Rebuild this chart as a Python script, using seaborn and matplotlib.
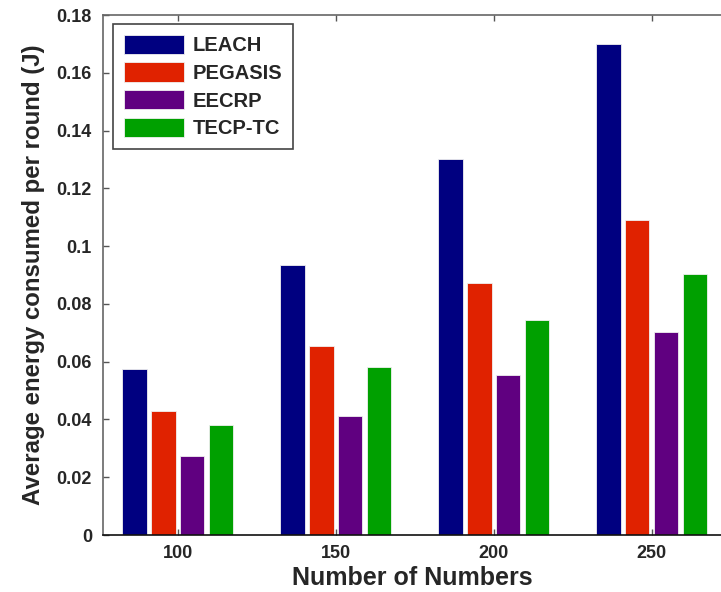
import pandas as pd
import seaborn as sns
import matplotlib.pyplot as plt

# data
nodes = ["100", "150", "200", "250"]
protocols = ["LEACH", "PEGASIS", "EECRP", "TECP-TC"]
leach = [0.0574, 0.0933, 0.1300, 0.1700]
pegasis = [0.0430, 0.0653, 0.0872, 0.1092]
eecrp = [0.0272, 0.0411, 0.0553, 0.0702]
tecp_tc = [0.0381, 0.0581, 0.0744, 0.0902]
colors = ["#000080", "#E02200", "#600080", "#00A000"]

rows = []
for name, vals in zip(protocols, [leach, pegasis, eecrp, tecp_tc]):
    for n, v in zip(nodes, vals):
        rows.append({"nodes": n, "energy": v, "protocol": name})
df = pd.DataFrame(rows)

sns.set_style("white")
plt.rcParams['font.family'] = ['Liberation Sans', 'DejaVu Sans']

fig = plt.figure(figsize=(7.21, 5.92), dpi=100)
ax = fig.add_axes([103 / 721, 1 - 535 / 592, 1 - 103 / 721, (535 - 15) / 592])

sns.barplot(data=df, x="nodes", y="energy", hue="protocol", order=nodes,
            hue_order=protocols, palette=colors, width=0.73, gap=0.15,
            edgecolor="#f0f0f0", linewidth=0.6, saturation=1, ax=ax)

ax.set_xlim(-0.473, 3.439)
ax.set_ylim(0, 0.18)
ax.set_yticks([i * 0.02 for i in range(10)])
ax.set_yticklabels(["0", "0.02", "0.04", "0.06", "0.08", "0.1", "0.12",
                    "0.14", "0.16", "0.18"])

ax.set_xlabel("Number of Numbers", fontsize=18, fontweight="bold", labelpad=3)
ax.set_ylabel("Average energy consumed per round (J)", fontsize=17.3,
              fontweight="bold", labelpad=8)

for lab in ax.get_xticklabels() + ax.get_yticklabels():
    lab.set_fontweight("bold")
    lab.set_fontsize(13)

ax.tick_params(axis="both", direction="in", length=4, width=1, color="#555555",
               top=True, bottom=True, left=True, right=False, pad=8)
ax.tick_params(axis="x", pad=7)

ax.spines["right"].set_visible(False)
for side in ["top", "left"]:
    ax.spines[side].set_color("#666666")
    ax.spines[side].set_linewidth(1.2)
ax.spines["bottom"].set_color("#111111")
ax.spines["bottom"].set_linewidth(1.2)

leg = ax.legend(loc="upper left", bbox_to_anchor=(0.016, 0.983),
                borderaxespad=0, prop={"weight": "bold", "size": 14.5},
                handlelength=3.0, handleheight=1.1, labelspacing=0.35,
                handletextpad=0.4, borderpad=0.55, fancybox=False,
                framealpha=1)
leg.get_frame().set_edgecolor("#444444")
leg.get_frame().set_linewidth(1.2)

fig.savefig("out.png", dpi=100)
